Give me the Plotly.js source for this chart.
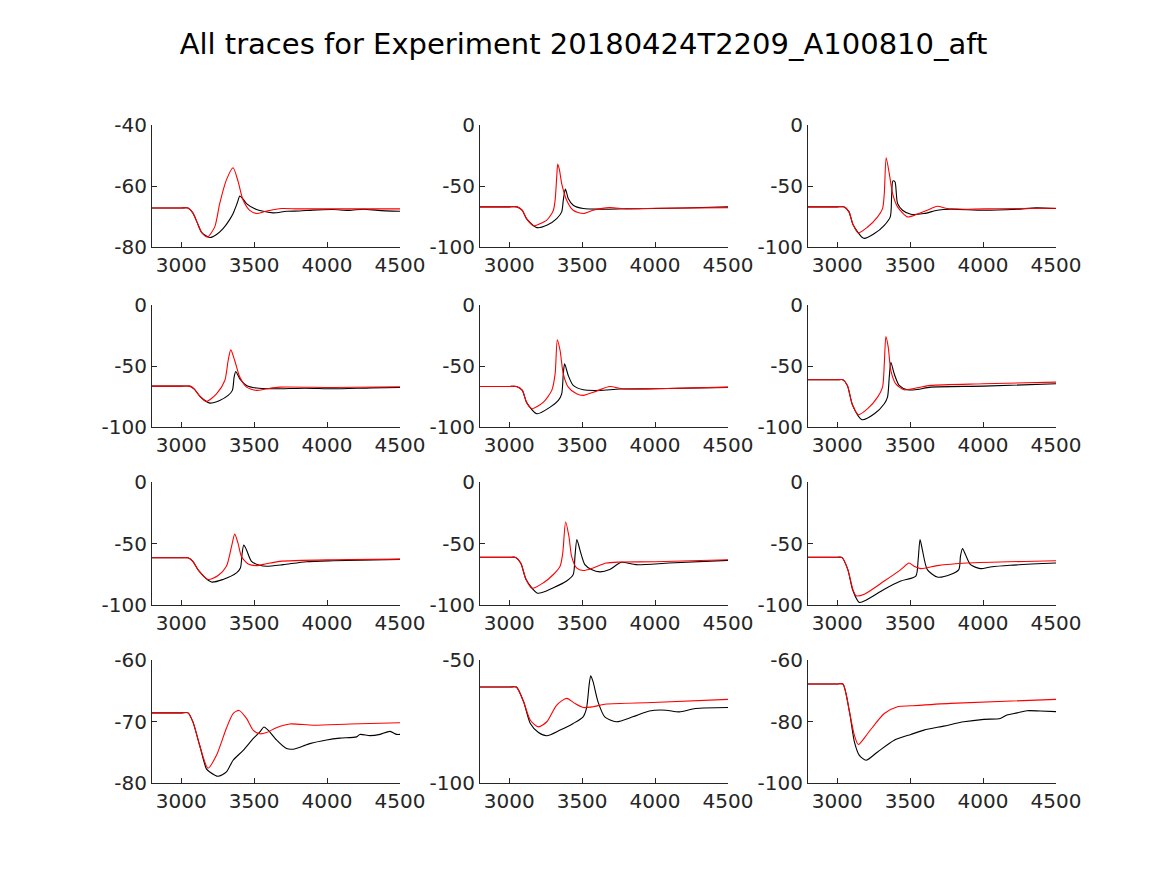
<!DOCTYPE html>
<html>
<head>
<meta charset="utf-8">
<script src="https://cdn.plot.ly/plotly-3.0.1.min.js"></script>
<style>
  body { margin: 0; background: #fff; }
  #plot { width: 1167px; height: 875px; }
</style>
</head>
<body>
<div id="plot"></div>
<script>
// recorded (black) and model (red) traces, one pair per panel
var p1BlackX = [2800, 3000, 3047, 3080, 3110, 3140, 3196, 3240, 3287, 3330, 3356, 3385, 3402, 3425, 3448, 3516, 3630, 3720, 3814, 3900, 4042, 4150, 4248, 4350, 4500];
var p1BlackY = [-67.2, -67.2, -67.2, -68.8, -72, -75.2, -76.9, -76, -74, -71.2, -69, -65.5, -63.3, -64.3, -65.8, -67.7, -68.8, -68.3, -68.2, -67.9, -67.7, -68.0, -67.6, -68.0, -68.3];
var p1RedX = [2800, 3000, 3047, 3080, 3110, 3140, 3180, 3230, 3264, 3310, 3356, 3390, 3425, 3470, 3516, 3580, 3688, 3800, 4000, 4200, 4500];
var p1RedY = [-67.2, -67.2, -67.2, -68.8, -72, -75.2, -76.7, -73.4, -65.8, -58, -54.0, -58.5, -64.7, -68, -69, -68.3, -67.4, -67.5, -67.5, -67.5, -67.5];

var p2BlackX = [2800, 3000, 3054, 3090, 3120, 3190, 3258, 3326, 3360, 3371, 3385, 3395, 3405, 3439, 3507, 3643, 3800, 3983, 4200, 4500];
var p2BlackY = [-67.1, -67.1, -67.1, -70, -77, -84.1, -82.2, -76.7, -71.2, -61.6, -52.6, -56, -60.3, -65.8, -68.5, -69, -68.7, -68.5, -68, -67.1];
var p2RedX = [2800, 3000, 3054, 3090, 3120, 3167, 3210, 3258, 3290, 3303, 3315, 3326, 3333, 3345, 3360, 3394, 3439, 3507, 3575, 3689, 3802, 4000, 4500];
var p2RedY = [-67.1, -67.1, -67.1, -70, -77, -82.7, -81, -78, -73, -69.9, -61.6, -42.5, -32, -37, -48, -61.6, -69.9, -72.6, -69.9, -67.7, -68.8, -68.2, -67.7];

var p3BlackX = [2800, 3000, 3045, 3080, 3110, 3182, 3255, 3323, 3364, 3373, 3382, 3396, 3414, 3448, 3505, 3595, 3686, 3777, 4005, 4232, 4366, 4500];
var p3BlackY = [-67.1, -67.1, -67.1, -71, -82, -92.9, -89, -82.2, -75.3, -58.9, -45.8, -46.5, -64.4, -69.9, -73.2, -72.6, -69.9, -69, -69.9, -69, -67.9, -68.5];
var p3RedX = [2800, 3000, 3045, 3080, 3110, 3145, 3209, 3277, 3311, 3323, 3336, 3357, 3380, 3414, 3482, 3550, 3618, 3686, 3755, 3891, 4100, 4500];
var p3RedY = [-67.1, -67.1, -67.1, -71, -82, -88.5, -83.6, -75.3, -68.5, -56, -26.8, -39.7, -56.2, -67.1, -75.3, -73, -69.9, -66.6, -68.5, -69, -68.6, -68.2];

var p4BlackX = [2800, 3000, 3059, 3090, 3130, 3196, 3264, 3322, 3351, 3363, 3374, 3402, 3448, 3516, 3630, 3850, 4042, 4300, 4500];
var p4BlackY = [-66.5, -66.5, -66.5, -69, -75, -80.4, -78.2, -74.1, -70, -59.1, -54.5, -60.5, -65.9, -68.1, -68.7, -68.2, -68.7, -67.9, -67.6];
var p4RedX = [2800, 3000, 3059, 3090, 3130, 3173, 3242, 3299, 3322, 3340, 3367, 3402, 3448, 3516, 3585, 3676, 4042, 4500];
var p4RedY = [-66.5, -66.5, -66.5, -69, -75, -79, -72.8, -61.9, -45.5, -36.8, -45.5, -59.1, -67.3, -70, -68.7, -67.3, -67.6, -67];

var p5BlackX = [2800, 3000, 3050, 3090, 3120, 3190, 3281, 3337, 3360, 3371, 3380, 3405, 3439, 3507, 3621, 3757, 4000, 4500];
var p5BlackY = [-66.8, -66.8, -66.8, -70, -80, -89.1, -83.7, -78.2, -72.8, -56.4, -48.2, -57.8, -65.9, -69.5, -70, -68.9, -68.7, -67.5];
var p5RedX = [2800, 3000, 3050, 3090, 3120, 3156, 3235, 3292, 3315, 3330, 3349, 3371, 3405, 3462, 3507, 3598, 3689, 3779, 4000, 4500];
var p5RedY = [-66.8, -66.8, -66.8, -70, -80, -85, -79.6, -70, -56.4, -28.6, -37.3, -56.4, -67.3, -72.8, -74.1, -70.6, -66.8, -68.7, -68.7, -67.3];

var p6BlackX = [2800, 3000, 3039, 3070, 3105, 3170, 3255, 3323, 3345, 3357, 3368, 3391, 3425, 3482, 3550, 3641, 4005, 4500];
var p6BlackY = [-61.3, -61.3, -61.3, -66, -82, -94, -89.1, -80.9, -75.5, -59.1, -46.9, -56.4, -65.9, -69.5, -69.2, -67.3, -66.5, -64.6];
var p6RedX = [2800, 3000, 3039, 3070, 3105, 3145, 3209, 3277, 3311, 3323, 3334, 3350, 3368, 3402, 3459, 3550, 3641, 4005, 4500];
var p6RedY = [-61.3, -61.3, -61.3, -66, -82, -89.9, -85, -75.5, -67.3, -48.2, -25.9, -34.6, -53.7, -64.6, -69.5, -67.8, -65.9, -64.6, -63.2];

var p7BlackX = [2800, 3000, 3047, 3080, 3120, 3207, 3287, 3379, 3406, 3418, 3429, 3448, 3482, 3539, 3585, 3699, 3859, 4042, 4500];
var p7BlackY = [-61.6, -61.6, -61.6, -64.5, -72, -81.3, -79.2, -73.9, -69.9, -57.9, -51.2, -55.2, -64.5, -67.7, -68.5, -67.2, -64.8, -64, -62.9];
var p7RedX = [2800, 3000, 3047, 3080, 3120, 3184, 3253, 3310, 3345, 3367, 3390, 3413, 3459, 3516, 3585, 3676, 4042, 4500];
var p7RedY = [-61.6, -61.6, -61.6, -64.5, -72, -79.2, -76, -68.5, -52.5, -42.4, -49.9, -60.5, -66.7, -68, -66.4, -64.5, -63.2, -62.7];

var p8BlackX = [2800, 3000, 3045, 3080, 3115, 3194, 3303, 3394, 3439, 3451, 3464, 3485, 3519, 3564, 3621, 3689, 3768, 3870, 4097, 4500];
var p8BlackY = [-61.3, -61.3, -61.3, -66, -79, -90.4, -85.9, -80.5, -75.2, -60.5, -46.7, -55.2, -67.2, -71.2, -73.1, -71.2, -65.3, -67.2, -65.9, -63.7];
var p8RedX = [2800, 3000, 3045, 3080, 3115, 3156, 3235, 3303, 3349, 3367, 3387, 3410, 3428, 3462, 3507, 3575, 3666, 3757, 4000, 4500];
var p8RedY = [-61.3, -61.3, -61.3, -66, -79, -86.4, -81.9, -75.2, -68.5, -57.9, -32.5, -44.5, -60.5, -69.9, -72, -69.9, -65.9, -65.1, -64.8, -63.2];

var p9BlackX = [2800, 2990, 3032, 3073, 3107, 3152, 3200, 3323, 3436, 3539, 3555, 3568, 3584, 3618, 3686, 3777, 3834, 3845, 3859, 3880, 3914, 3982, 4050, 4186, 4500];
var p9BlackY = [-61.3, -61.3, -61.3, -71.2, -88, -97.9, -96, -87.2, -80.5, -76.5, -63.2, -46.7, -55.2, -71.2, -77.3, -75.2, -71.2, -60.5, -54.1, -59.2, -67.2, -70.4, -69.1, -67.7, -65.9];
var p9RedX = [2800, 2990, 3032, 3073, 3107, 3130, 3186, 3323, 3436, 3493, 3527, 3573, 3686, 3891, 4500];
var p9RedY = [-61.3, -61.3, -61.3, -71.2, -87.2, -92.5, -91.2, -80.5, -71.2, -65.9, -68.5, -70.4, -68, -65.9, -64];

var p10BlackX = [2800, 3000, 3047, 3081, 3127, 3173, 3196, 3253, 3310, 3356, 3425, 3493, 3539, 3567, 3596, 3653, 3722, 3768, 3836, 3882, 3997, 4088, 4202, 4225, 4294, 4363, 4431, 4477, 4500];
var p10BlackY = [-68.6, -68.6, -68.6, -70.1, -73.9, -77.7, -78.2, -78.9, -78.2, -76.3, -74.7, -72.8, -71.7, -70.9, -71.4, -73, -74.4, -74.5, -74, -73.6, -73, -72.7, -72.5, -72.1, -72.3, -72.1, -71.6, -72.1, -72.1];
var p10RedX = [2800, 3000, 3047, 3081, 3127, 3184, 3242, 3310, 3356, 3397, 3448, 3493, 3539, 3585, 3653, 3745, 3905, 4157, 4500];
var p10RedY = [-68.6, -68.6, -68.6, -70.1, -73.9, -77.6, -75.5, -71.1, -68.7, -68.2, -69.5, -71.4, -72, -71.8, -71, -70.4, -70.6, -70.4, -70.2];

var p11BlackX = [2800, 3000, 3049, 3099, 3145, 3201, 3258, 3349, 3439, 3507, 3530, 3548, 3559, 3575, 3609, 3655, 3734, 3847, 3961, 4074, 4165, 4278, 4500];
var p11BlackY = [-61, -61, -61, -67, -75.8, -79.5, -80.8, -78.5, -75.8, -73.1, -69.7, -60.2, -56.4, -58.8, -67, -73.1, -75.1, -73.1, -70.7, -70.4, -71.1, -69.7, -69.3];
var p11RedX = [2800, 3000, 3049, 3099, 3145, 3201, 3258, 3326, 3394, 3451, 3507, 3575, 3666, 3983, 4500];
var p11RedY = [-61, -61, -61, -67, -74.5, -77.2, -75.1, -68.3, -65.6, -67.7, -69.3, -69, -67.9, -67.3, -66];

var p12BlackX = [2800, 3000, 3039, 3084, 3118, 3152, 3198, 3277, 3391, 3505, 3595, 3730, 3868, 4005, 4118, 4164, 4232, 4300, 4391, 4500];
var p12BlackY = [-67.8, -67.8, -67.8, -76.8, -86.6, -91, -92.6, -89.9, -86.1, -84.2, -82.8, -81.5, -80.1, -79.3, -79, -77.9, -77.2, -76.5, -76.6, -76.8];
var p12RedX = [2800, 3000, 3039, 3084, 3118, 3145, 3209, 3323, 3414, 3505, 3777, 4500];
var p12RedY = [-67.8, -67.8, -67.8, -76.8, -84.5, -87.5, -83.9, -77.4, -75.2, -74.9, -74.1, -72.8];

// y ranges and ticks per panel
var yRanges = [[-80, -40], [-100, 0], [-100, 0], [-100, 0], [-100, 0], [-100, 0],
               [-100, 0], [-100, 0], [-100, 0], [-80, -60], [-100, -50], [-100, -60]];
var yTicks = [[-80, -60, -40], [-100, -50, 0], [-100, -50, 0], [-100, -50, 0], [-100, -50, 0], [-100, -50, 0],
              [-100, -50, 0], [-100, -50, 0], [-100, -50, 0], [-80, -70, -60], [-100, -50], [-100, -80, -60]];
var xTicks = [3000, 3500, 4000, 4500];

var panels = [
  [p1BlackX, p1BlackY, p1RedX, p1RedY], [p2BlackX, p2BlackY, p2RedX, p2RedY], [p3BlackX, p3BlackY, p3RedX, p3RedY],
  [p4BlackX, p4BlackY, p4RedX, p4RedY], [p5BlackX, p5BlackY, p5RedX, p5RedY], [p6BlackX, p6BlackY, p6RedX, p6RedY],
  [p7BlackX, p7BlackY, p7RedX, p7RedY], [p8BlackX, p8BlackY, p8RedX, p8RedY], [p9BlackX, p9BlackY, p9RedX, p9RedY],
  [p10BlackX, p10BlackY, p10RedX, p10RedY], [p11BlackX, p11BlackY, p11RedX, p11RedY], [p12BlackX, p12BlackY, p12RedX, p12RedY]
];

// pixel boxes of the 4x3 grid
var W = 1167, H = 875;
var colPx = [[152, 400], [480, 728], [808, 1056]];
var rowPx = [[125, 247], [305, 427], [482, 605], [660, 783]];
var axisColor = '#262626';

var data = [];
var layout = {
  width: W, height: H,
  margin: {l: 0, r: 0, t: 0, b: 0},
  paper_bgcolor: '#fff', plot_bgcolor: '#fff',
  showlegend: false,
  font: {family: 'DejaVu Sans', size: 20, color: axisColor},
  title: {
    text: 'All traces for Experiment 20180424T2209_A100810_aft',
    font: {family: 'DejaVu Sans', size: 29, color: '#000'},
    x: 0.5, xanchor: 'center', y: 1 - 44 / H, yanchor: 'middle'
  }
};

panels.forEach(function (p, i) {
  var n = i + 1;
  var sfx = n === 1 ? '' : String(n);
  var row = Math.floor(i / 3), col = i % 3;
  var common = {type: 'scatter', mode: 'lines', xaxis: 'x' + sfx, yaxis: 'y' + sfx, hoverinfo: 'skip'};
  data.push(Object.assign({x: p[0], y: p[1], line: {color: '#000', width: 1.1, shape: 'spline', smoothing: 0.7}}, common));
  data.push(Object.assign({x: p[2], y: p[3], line: {color: '#ff0000', width: 1.1, shape: 'spline', smoothing: 0.7}}, common));

  layout['xaxis' + sfx] = {
    domain: [colPx[col][0] / W, colPx[col][1] / W],
    anchor: 'y' + sfx,
    range: [2800, 4500],
    tickmode: 'array', tickvals: xTicks, ticktext: xTicks.map(String),
    ticks: 'inside', ticklen: 5, tickcolor: axisColor,
    showline: true, linecolor: axisColor, linewidth: 1,
    showgrid: false, zeroline: false, fixedrange: true
  };
  layout['yaxis' + sfx] = {
    domain: [1 - rowPx[row][1] / H, 1 - rowPx[row][0] / H],
    anchor: 'x' + sfx,
    range: yRanges[i],
    tickmode: 'array', tickvals: yTicks[i], ticktext: yTicks[i].map(String),
    ticks: 'inside', ticklen: 5, tickcolor: axisColor,
    showline: true, linecolor: axisColor, linewidth: 1,
    showgrid: false, zeroline: false, fixedrange: true
  };
});

Plotly.newPlot('plot', data, layout, {staticPlot: true});
</script>
</body>
</html>
